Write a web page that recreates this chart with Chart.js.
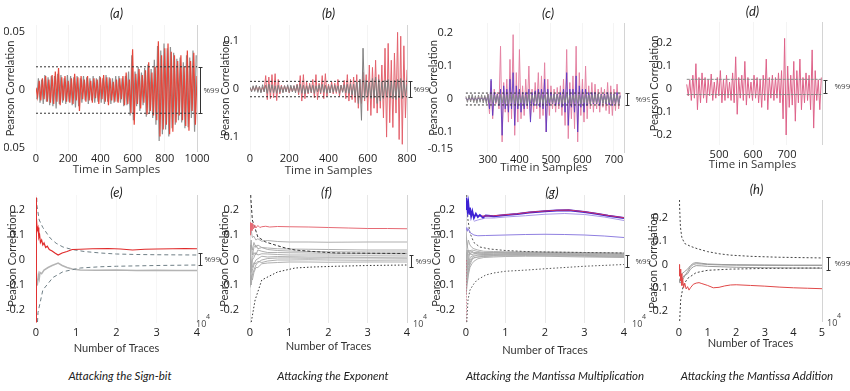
<!DOCTYPE html>
<html lang="en">
<head>
<meta charset="utf-8" />
<title>Pearson correlation panels</title>
<script src="https://cdn.jsdelivr.net/npm/chart.js@4.4.1/dist/chart.umd.min.js"></script>
<style>
  body { margin: 0; width: 850px; height: 391px; background: #fff; position: relative; overflow: hidden; }
  canvas { position: absolute; }
  .cap { position: absolute; top: 369px; font: italic 11.5px Lato, sans-serif; color: #222; transform: translateX(-50%); white-space: nowrap; }
</style>
</head>
<body>
<canvas id="pa"></canvas>
<canvas id="pb"></canvas>
<canvas id="pc"></canvas>
<canvas id="pd"></canvas>
<canvas id="pe"></canvas>
<canvas id="pf"></canvas>
<canvas id="pg"></canvas>
<canvas id="ph"></canvas>
<div class="cap" style="left:120px">Attacking the Sign-bit</div>
<div class="cap" style="left:333px">Attacking the Exponent</div>
<div class="cap" style="left:555px">Attacking the Mantissa Multiplication</div>
<div class="cap" style="left:757px">Attacking the Mantissa Addition</div>
<script>
// ---- (a) sign-bit, time domain: samples 0..1000 ----
const aXTicks = [0, 200, 400, 600, 800, 1000];
const aYTicks = [-0.05, 0, 0.05];
const aLimits = [0.02, -0.02];
const aRed = [
  0.002, -0.006, 0.008, -0.009, 0.010, -0.008, 0.012, -0.010, 0.009, -0.011, 0.013,
  -0.012, 0.016, -0.010, 0.019, -0.013, 0.011, -0.009, 0.012, -0.010, 0.008,
  -0.011, 0.010, -0.012, 0.014, -0.009, 0.011, -0.018, 0.012, -0.008, 0.009,
  -0.010, 0.012, -0.009, 0.008, -0.011, 0.010, -0.007, 0.009, -0.012, 0.011,
  -0.008, 0.013, -0.010, 0.011, -0.013, 0.010, -0.009, 0.007, -0.010, 0.009,
  -0.011, 0.010, -0.008, 0.012, -0.013, 0.015, -0.012, 0.009, -0.020, 0.035,
  -0.030, 0.014, -0.012, 0.018, -0.016, 0.013, -0.011, 0.017, -0.021, 0.024,
  -0.018, 0.015, -0.022, 0.020, -0.026, 0.042, -0.040, 0.030, -0.034, 0.036,
  -0.030, 0.040, -0.038, 0.033, -0.036, 0.030, -0.028, 0.025, -0.022, 0.030,
  -0.026, 0.020, -0.031, 0.034, -0.035, 0.025, -0.018, 0.032, -0.030, 0.012
];
const aGray = [
  -0.008, 0.010, -0.011, 0.009, -0.012, 0.013, -0.010, 0.011, -0.013, 0.012,
  -0.014, 0.012, -0.016, 0.014, -0.012, 0.013, -0.011, 0.010, -0.012, 0.013,
  -0.010, 0.012, -0.013, 0.011, -0.015, 0.012, -0.014, 0.010, -0.011, 0.012,
  -0.009, 0.011, -0.012, 0.010, -0.009, 0.012, -0.011, 0.010, -0.010, 0.012,
  -0.011, 0.010, -0.012, 0.013, -0.010, 0.011, -0.012, 0.010, -0.011, 0.012,
  -0.010, 0.012, -0.011, 0.010, -0.014, 0.012, -0.013, 0.016, -0.022, 0.030,
  -0.026, 0.016, -0.014, 0.020, -0.018, 0.015, -0.013, 0.019, -0.023, 0.022,
  -0.020, 0.018, -0.024, 0.026, -0.030, 0.038, -0.044, 0.034, -0.038, 0.040,
  -0.034, 0.036, -0.040, 0.037, -0.033, 0.032, -0.030, 0.027, -0.026, 0.028,
  -0.028, 0.024, -0.033, 0.030, -0.032, 0.028, -0.024, 0.034, -0.036, 0.030
];

// ---- (b) exponent, time domain: samples 0..800 ----
const bXTicks = [0, 200, 400, 600, 800];
const bYTicks = [-0.1, 0, 0.1];
const bLimits = [0.016, -0.016];
const bGray = [
  0.004, -0.006, 0.007, -0.005, 0.008, -0.007, 0.006, -0.008, 0.009, -0.006,
  0.008, -0.009, 0.010, -0.007, 0.009, -0.008, 0.007, -0.009, 0.008, -0.007,
  0.006, -0.008, 0.007, -0.006, 0.009, -0.007, 0.008, -0.006, 0.007, -0.008,
  0.009, -0.007, 0.010, -0.009, 0.008, -0.010, 0.007, -0.008, 0.009, -0.007,
  0.008, -0.009, 0.007, -0.006, 0.009, -0.008, 0.010, -0.007, 0.008, -0.009,
  0.007, -0.008, 0.009, -0.007, 0.008, -0.006, 0.007, -0.009, 0.008, -0.007,
  0.009, -0.008, 0.010, -0.009, 0.011, -0.012, 0.010, -0.014, 0.015, -0.030,
  0.020, -0.065, 0.085, -0.020, 0.018, -0.015, 0.014, -0.020, 0.022, -0.018,
  0.025, -0.030, 0.020, -0.025, 0.015, -0.020, 0.018, -0.015, 0.020, -0.018,
  0.016, -0.020, 0.018, -0.022, 0.020, -0.018, 0.022, -0.020, 0.018, -0.015,
  0.010
];
const bRed = [
  0.002, -0.004, 0.005, -0.003, 0.006, -0.004, 0.005, -0.006, 0.004, -0.005,
  0.028, -0.022, 0.025, -0.020, 0.030, -0.018, 0.032, -0.024, 0.020, -0.010,
  0.008, -0.006, 0.007, -0.005, 0.006, -0.008, 0.005, -0.006, 0.007, -0.005,
  0.010, -0.012, 0.028, -0.025, 0.030, -0.020, 0.015, -0.010, 0.012, -0.008,
  0.020, -0.018, 0.030, -0.022, 0.012, -0.010, 0.028, -0.020, 0.032, -0.015,
  0.010, -0.008, 0.015, -0.010, 0.012, -0.009, 0.020, -0.015, 0.008, -0.006,
  0.018, -0.020, 0.030, -0.025, 0.020, -0.022, 0.025, -0.028, 0.030, -0.040,
  0.020, -0.030, 0.035, -0.025, 0.030, -0.045, 0.050, -0.055, 0.045, -0.040,
  0.060, -0.050, 0.030, -0.040, 0.050, -0.060, 0.085, -0.100, 0.095, -0.070,
  0.060, -0.080, 0.075, -0.050, 0.118, -0.105, 0.110, -0.115, 0.090, -0.060,
  0.040
];

// ---- (c) mantissa multiplication, time domain: samples 230..720 ----
const cXTicks = [300, 400, 500, 600, 700];
const cYTicks = [-0.15, -0.1, 0, 0.1, 0.2];
const cLimits = [0.018, -0.018];
const cGray = [
  0.008, -0.010, 0.012, -0.009, 0.014, -0.011, 0.010, -0.013, 0.012, -0.010,
  0.013, -0.012, 0.011, -0.014, 0.015, -0.012, 0.014, -0.013, 0.012, -0.011,
  0.013, -0.015, 0.014, -0.012, 0.013, -0.014, 0.012, -0.015, 0.014, -0.012,
  0.015, -0.013, 0.012, -0.014, 0.013, -0.012, 0.014, -0.013, 0.012, -0.015,
  0.014, -0.013, 0.012, -0.011, 0.013, -0.014, 0.015, -0.012, 0.013, -0.014,
  0.012, -0.013, 0.014, -0.012, 0.011, -0.013, 0.014, -0.012, 0.013, -0.011,
  0.012, -0.014, 0.013, -0.012, 0.015, -0.013, 0.012, -0.014, 0.013, -0.012,
  0.014, -0.013, 0.012, -0.015, 0.013, -0.012, 0.014, -0.013, 0.012, -0.014,
  0.013, -0.012, 0.014, -0.013, 0.015, -0.012, 0.013, -0.014, 0.012, -0.013,
  0.014, -0.012, 0.013, -0.015, 0.014, -0.013, 0.012, -0.014, 0.010
];
const cPink = [
  0.004, -0.005, 0.006, -0.004, 0.005, -0.006, 0.004, -0.005, 0.006, -0.004,
  0.005, -0.006, 0.008, -0.010, 0.015, -0.045, 0.055, -0.060, 0.030, -0.015,
  0.020, -0.030, 0.160, -0.130, 0.050, -0.040, 0.060, -0.070, 0.120, -0.060,
  0.195, -0.110, 0.080, -0.070, 0.150, -0.060, 0.040, -0.050, 0.060, -0.030,
  0.100, -0.060, 0.030, -0.040, 0.050, -0.030, 0.080, -0.060, 0.070, -0.050,
  0.110, -0.100, 0.060, -0.050, 0.040, -0.030, 0.030, -0.040, 0.035, -0.030,
  0.040, -0.050, 0.060, -0.080, 0.150, -0.120, 0.050, -0.060, 0.070, -0.090,
  0.160, -0.130, 0.080, -0.050, 0.060, -0.070, 0.100, -0.060, 0.040, -0.030,
  0.050, -0.040, 0.045, -0.030, 0.030, -0.040, 0.035, -0.025, 0.030, -0.035,
  0.050, -0.045, 0.040, -0.050, 0.030, -0.035, 0.045, -0.030, 0.020
];
const cPurple = [
  0.002, -0.003, 0.003, -0.002, 0.004, -0.003, 0.002, -0.004, 0.003, -0.002,
  0.003, -0.004, 0.005, -0.006, 0.010, -0.030, 0.060, -0.050, 0.020, -0.010,
  0.015, -0.020, 0.030, -0.110, 0.040, -0.030, 0.030, -0.040, 0.060, -0.030,
  0.080, -0.080, 0.040, -0.030, 0.030, -0.040, 0.020, -0.030, 0.020, -0.020,
  0.030, -0.070, 0.020, -0.020, 0.025, -0.020, 0.030, -0.025, 0.030, -0.030,
  0.060, -0.100, 0.030, -0.020, 0.020, -0.015, 0.015, -0.020, 0.015, -0.015,
  0.020, -0.025, 0.030, -0.040, 0.080, -0.080, 0.030, -0.025, 0.030, -0.040,
  0.070, -0.100, 0.040, -0.025, 0.030, -0.040, 0.030, -0.020, 0.020, -0.015,
  0.020, -0.015, 0.020, -0.015, 0.015, -0.020, 0.015, -0.012, 0.015, -0.015,
  0.020, -0.018, 0.015, -0.020, 0.015, -0.015, 0.020, -0.015, 0.010
];

// ---- (d) mantissa addition, time domain: samples 405..801 ----
const dXTicks = [500, 600, 700];
const dYTicks = [-0.2, -0.1, 0, 0.1, 0.2];
const dLimits = [0.042, -0.024];
const dPink = [
  0.020, -0.030, 0.040, -0.050, 0.060, -0.040, 0.110, -0.090, 0.050, -0.060,
  0.070, -0.040, 0.050, -0.060, 0.040, -0.030, 0.065, -0.050, 0.030, -0.040,
  0.050, -0.030, 0.080, -0.060, 0.040, -0.050, 0.060, -0.040, 0.030, -0.050,
  0.070, -0.060, 0.140, -0.110, 0.050, -0.040, 0.060, -0.050, 0.120, -0.070,
  0.050, -0.040, 0.030, -0.050, 0.060, -0.040, 0.050, -0.060, 0.040, -0.080,
  0.060, -0.050, 0.130, -0.090, 0.050, -0.040, 0.060, -0.050, 0.050, -0.040,
  0.070, -0.060, 0.080, -0.130, 0.220, -0.200, 0.100, -0.080, 0.060, -0.070,
  0.120, -0.140, 0.080, -0.060, 0.130, -0.090, 0.050, -0.060, 0.070, -0.050,
  0.060, -0.090, 0.170, -0.170, 0.080, -0.050, 0.040, -0.090, 0.050
];

// ---- bottom row: correlation vs number of traces (x in units of 10^4) ----
const eXTicks = [0, 1, 2, 3, 4];
const hXTicks = [0, 1, 2, 3, 4, 5];
const lowYTicks = [-0.2, -0.1, 0, 0.1, 0.2];

const eRed = [[0, 0.25], [0.004, -0.25], [0.008, 0.2], [0.015, 0.17], [0.03, 0.12], [0.05, 0.13],
  [0.07, 0.09], [0.09, 0.1], [0.11, 0.07], [0.14, 0.08], [0.17, 0.06], [0.2, 0.068], [0.24, 0.05],
  [0.28, 0.055], [0.33, 0.042], [0.4, 0.036], [0.47, 0.028], [0.55, 0.02], [0.65, 0.028],
  [0.77, 0.034], [0.9, 0.042], [1.1, 0.043], [1.4, 0.045], [1.8, 0.046], [2.1, 0.044], [2.4, 0.04],
  [2.7, 0.043], [3.0, 0.044], [3.4, 0.045], [3.7, 0.046], [4.0, 0.045]];
const eGray = [[0.01, -0.1], [0.02, -0.08], [0.04, -0.09], [0.06, -0.06], [0.08, -0.075], [0.1, -0.05],
  [0.14, -0.055], [0.2, -0.04], [0.3, -0.03], [0.4, -0.022], [0.55, -0.012], [0.65, -0.022],
  [0.77, -0.03], [0.9, -0.036], [1.1, -0.04], [1.5, -0.041], [2, -0.04], [2.5, -0.042], [3, -0.041],
  [3.5, -0.042], [4, -0.042]];
const eUpper = [[0.005, 0.5], [0.02, 0.22], [0.08, 0.16], [0.17, 0.13], [0.35, 0.088], [0.5, 0.067],
  [0.67, 0.052], [0.9, 0.042], [1.2, 0.034], [1.6, 0.028], [2, 0.024], [2.5, 0.022], [3, 0.021], [4, 0.02]];
const eLower = [[0.005, -0.5], [0.02, -0.3], [0.05, -0.21], [0.17, -0.12], [0.42, -0.07], [0.67, -0.047],
  [1.1, -0.032], [1.6, -0.027], [2, -0.025], [3, -0.022], [4, -0.02]];

const fRed = [[0, 0.1], [0.01, 0.15], [0.02, 0.12], [0.03, 0.148], [0.05, 0.118], [0.07, 0.145],
  [0.09, 0.125], [0.12, 0.14], [0.15, 0.128], [0.2, 0.138], [0.25, 0.13], [0.3, 0.133], [0.4, 0.135],
  [0.5, 0.132], [0.7, 0.134], [1, 0.133], [1.5, 0.132], [2, 0.13], [2.5, 0.128], [3, 0.126],
  [3.5, 0.126], [4, 0.125]];
const fUpper = [[0.003, 0.5], [0.02, 0.25], [0.06, 0.16], [0.2, 0.092], [0.4, 0.072], [0.64, 0.06],
  [0.9, 0.048], [1.15, 0.04], [1.6, 0.034], [2.2, 0.028], [3, 0.027], [4, 0.026]];
const fLower = [[0.003, -0.5], [0.03, -0.25], [0.13, -0.16], [0.3, -0.08], [0.7, -0.048],
  [1.15, -0.032], [1.6, -0.028], [2.2, -0.025], [3, -0.022], [4, -0.02]];
const fGrayX = [0, 0.03, 0.06, 0.1, 0.15, 0.2, 0.3, 0.45, 0.7, 1, 1.5, 2, 3, 4];
const fGray = [
  [0.1, 0.12, 0.09, 0.095, 0.08, 0.085, 0.075, 0.078, 0.074, 0.072, 0.072, 0.071, 0.072, 0.072],
  [-0.05, 0.06, 0.04, 0.07, 0.05, 0.06, 0.05, 0.048, 0.045, 0.044, 0.043, 0.042, 0.04, 0.04],
  [0.04, 0.08, 0.02, 0.05, 0.06, 0.045, 0.05, 0.042, 0.038, 0.036, 0.034, 0.033, 0.032, 0.032],
  [-0.1, -0.03, 0.01, 0.03, 0.02, 0.04, 0.035, 0.03, 0.03, 0.029, 0.028, 0.027, 0.026, 0.026],
  [0.02, -0.05, 0.0, 0.01, 0.03, 0.02, 0.025, 0.024, 0.022, 0.02, 0.02, 0.02, 0.019, 0.02],
  [-0.11, -0.08, -0.04, -0.02, 0.0, 0.005, 0.015, 0.012, 0.014, 0.013, 0.012, 0.012, 0.011, 0.012],
  [-0.06, -0.1, -0.06, -0.04, -0.02, -0.01, 0.0, 0.006, 0.008, 0.008, 0.007, 0.008, 0.008, 0.007],
  [0.06, 0.0, -0.03, -0.01, -0.015, -0.005, -0.01, -0.004, 0.0, 0.0, 0.001, 0.0, -0.001, 0.0],
  [-0.02, -0.07, -0.08, -0.05, -0.03, -0.03, -0.015, -0.012, -0.01, -0.008, -0.008, -0.009, -0.008, -0.008]
];

const gTop = [[0, 0.25], [0.01, 0.2], [0.02, 0.245], [0.04, 0.2], [0.06, 0.225], [0.08, 0.185],
  [0.1, 0.21], [0.13, 0.175], [0.16, 0.195], [0.2, 0.168], [0.25, 0.185], [0.3, 0.172], [0.35, 0.18],
  [0.43, 0.17], [0.5, 0.178], [0.7, 0.175], [1.0, 0.18], [1.3, 0.184], [1.6, 0.19], [2.0, 0.195],
  [2.3, 0.198], [2.6, 0.199], [3.0, 0.192], [3.3, 0.185], [3.6, 0.177], [4.0, 0.168]];
const gTopRed = [[0.4, 0.176], [0.7, 0.177], [1.0, 0.181], [1.3, 0.185], [1.6, 0.191], [2.0, 0.196],
  [2.3, 0.199], [2.6, 0.2], [3.0, 0.193], [3.3, 0.186], [3.6, 0.178], [4.0, 0.169]];
const gLav1 = [[0.2, 0.155], [0.3, 0.16], [0.5, 0.168], [0.7, 0.168], [1.0, 0.172], [1.5, 0.177],
  [2.0, 0.183], [2.5, 0.186], [3.0, 0.182], [3.5, 0.172], [4.0, 0.158]];
const gLav2 = [[0, 0.12], [0.02, 0.13], [0.04, 0.115], [0.06, 0.125], [0.1, 0.11], [0.15, 0.105],
  [0.2, 0.1], [0.3, 0.097], [0.5, 0.098], [1.0, 0.1], [1.5, 0.102], [2.0, 0.103], [2.5, 0.102],
  [3.0, 0.1], [3.5, 0.096], [4.0, 0.09]];
const gRedStart = [[0, 0.0], [0, -0.26]];
const gUpper = [[0.003, 0.5], [0.02, 0.25], [0.05, 0.16], [0.1, 0.108], [0.2, 0.07], [0.35, 0.052],
  [0.6, 0.044], [1, 0.038], [1.5, 0.034], [2, 0.032], [3, 0.03], [4, 0.028]];
const gLower = [[0.003, -0.5], [0.02, -0.25], [0.05, -0.16], [0.1, -0.12], [0.2, -0.095], [0.28, -0.08],
  [0.5, -0.06], [0.7, -0.052], [1, -0.045], [1.55, -0.04], [2, -0.035], [3, -0.025], [4, -0.018]];
const gGrayX = [0, 0.03, 0.06, 0.1, 0.15, 0.2, 0.3, 0.45, 0.7, 1, 1.5, 2, 3, 4];
const gGray = [
  [0.12, 0.05, 0.08, 0.06, 0.05, 0.045, 0.04, 0.035, 0.034, 0.033, 0.032, 0.032, 0.03, 0.028],
  [-0.08, 0.02, 0.04, 0.02, 0.035, 0.03, 0.03, 0.028, 0.03, 0.03, 0.031, 0.03, 0.028, 0.026],
  [0.05, -0.04, 0.0, 0.03, 0.02, 0.025, 0.028, 0.026, 0.027, 0.028, 0.028, 0.027, 0.025, 0.022],
  [-0.12, -0.07, -0.03, 0.0, 0.01, 0.015, 0.02, 0.022, 0.024, 0.025, 0.026, 0.025, 0.022, 0.02],
  [0.09, 0.06, 0.03, 0.04, 0.03, 0.028, 0.025, 0.022, 0.022, 0.024, 0.024, 0.023, 0.021, 0.018],
  [-0.05, -0.09, -0.05, -0.02, 0.0, 0.01, 0.012, 0.015, 0.018, 0.02, 0.021, 0.02, 0.018, 0.015],
  [0.0, 0.04, -0.02, 0.01, 0.015, 0.02, 0.02, 0.018, 0.02, 0.021, 0.022, 0.021, 0.018, 0.014],
  [-0.1, -0.03, 0.02, 0.035, 0.04, 0.038, 0.034, 0.03, 0.03, 0.029, 0.03, 0.029, 0.027, 0.024],
  [0.03, -0.06, -0.04, -0.01, 0.005, 0.008, 0.012, 0.014, 0.016, 0.017, 0.018, 0.017, 0.015, 0.012],
  [-0.14, -0.1, -0.06, -0.03, -0.015, -0.005, 0.005, 0.01, 0.012, 0.014, 0.015, 0.015, 0.012, 0.01]
];

const hRed = [[0, 0.0], [0.02, -0.05], [0.04, -0.02], [0.06, -0.07], [0.08, -0.04], [0.1, -0.09],
  [0.13, -0.06], [0.16, -0.1], [0.2, -0.08], [0.25, -0.105], [0.3, -0.095], [0.35, -0.11], [0.4, -0.1],
  [0.5, -0.085], [0.6, -0.08], [0.7, -0.078], [0.8, -0.082], [1.0, -0.09], [1.2, -0.1], [1.4, -0.098],
  [1.6, -0.092], [1.8, -0.088], [2.0, -0.087], [2.5, -0.09], [3.0, -0.093], [3.5, -0.097], [4.0, -0.1],
  [4.5, -0.102], [5.0, -0.104]];
const hUpper = [[0.003, 0.5], [0.02, 0.25], [0.05, 0.16], [0.1, 0.115], [0.2, 0.09], [0.4, 0.078],
  [0.63, 0.068], [1, 0.055], [1.4, 0.046], [1.8, 0.04], [2.5, 0.035], [3.5, 0.031], [5, 0.028]];
const hLower = [[0.003, -0.5], [0.02, -0.25], [0.06, -0.15], [0.15, -0.09], [0.3, -0.06], [0.6, -0.035],
  [1, -0.025], [1.8, -0.02], [3, -0.017], [5, -0.015]];
const hGrayX = [0, 0.05, 0.1, 0.2, 0.3, 0.4, 0.5, 0.6, 0.8, 1, 1.5, 2, 3, 4, 5];
const hGray = [
  [-0.06, -0.08, -0.07, -0.05, -0.03, -0.01, 0.0, 0.003, 0.002, 0.0, -0.002, -0.003, -0.004, -0.004, -0.004],
  [-0.03, -0.05, -0.06, -0.045, -0.04, -0.02, -0.01, -0.005, -0.006, -0.008, -0.01, -0.012, -0.014, -0.015, -0.016],
  [-0.08, -0.06, -0.04, -0.03, -0.02, -0.005, 0.005, 0.008, 0.005, 0.002, 0.0, -0.001, -0.002, -0.003, -0.003]
];

// ---- helpers ----
Chart.defaults.font.family = "'Open Sans', sans-serif";
Chart.defaults.color = "#222";

const steps = (start, step, ys) => ys.map((y, i) => ({ x: start + i * step, y }));
const pts = (p) => p.map(([x, y]) => ({ x, y }));
const share = (xs, ys) => xs.map((x, i) => ({ x, y: ys[i] }));
const hline = (v, x0, x1) => [{ x: x0, y: v }, { x: x1, y: v }];

function line(data, color, width, dash) {
  return { data, borderColor: color, borderWidth: width, borderDash: dash || [], pointRadius: 0, fill: false, tension: 0 };
}

const deco = {
  id: "deco",
  afterDraw(chart, _args, o) {
    const { ctx, chartArea: a, scales: { y } } = chart;
    const r = Math.round(a.right) + 0.5;
    ctx.save();
    ctx.setLineDash([]);
    ctx.lineWidth = 1;
    ctx.strokeStyle = "#d4d4d4";
    ctx.beginPath();
    ctx.moveTo(r, a.top);
    ctx.lineTo(r, a.bottom);
    ctx.stroke();

    ctx.fillStyle = "#222";
    ctx.font = "italic 13px Lato, sans-serif";
    ctx.textAlign = "center";
    ctx.textBaseline = "middle";
    ctx.fillText(o.title, (a.left + a.right) / 2 + (o.tx || 0), a.top - o.ty);

    const y1 = Math.round(y.getPixelForValue(o.hi)) + 0.5;
    const y2 = Math.round(y.getPixelForValue(o.lo)) + 0.5;
    const bx = r + (o.bx || 3);
    ctx.strokeStyle = "#333";
    ctx.beginPath();
    ctx.moveTo(bx, y1); ctx.lineTo(bx, y2);
    ctx.moveTo(bx - 2, y1); ctx.lineTo(bx + 2, y1);
    ctx.moveTo(bx - 2, y2); ctx.lineTo(bx + 2, y2);
    ctx.stroke();
    ctx.fillStyle = "#444";
    ctx.font = "8px 'Open Sans', sans-serif";
    ctx.textAlign = "left";
    ctx.fillText("%99", bx + (o.px || 4), (y1 + y2) / 2);

    if (o.exp != null) {
      ctx.font = "9px 'Open Sans', sans-serif";
      ctx.fillText("10", a.right + o.exp, a.bottom + 1);
      ctx.font = "7px 'Open Sans', sans-serif";
      ctx.fillText("4", a.right + o.exp + 10, a.bottom - 6);
    }
    ctx.restore();
  },
};

function panel(id, box, area, o) {
  const cv = document.getElementById(id);
  cv.width = box.w;
  cv.height = box.h;
  cv.style.left = box.x + "px";
  cv.style.top = box.y + "px";
  const yW = area.l - box.x;
  const xH = box.y + box.h - area.b;
  const tickList = (vals) => (s) => { s.ticks = vals.map((v) => ({ value: v })); };
  new Chart(cv, {
    type: "line",
    data: { datasets: o.datasets },
    plugins: [deco],
    options: {
      responsive: false,
      animation: false,
      devicePixelRatio: 1,
      layout: { padding: { left: 0, bottom: 0, top: area.t - box.y, right: box.x + box.w - area.r } },
      plugins: { legend: { display: false }, tooltip: { enabled: false }, deco: o.deco },
      scales: {
        x: {
          type: "linear", min: o.x[0], max: o.x[1],
          afterBuildTicks: tickList(o.xTicks),
          afterFit: (s) => { s.height = xH; },
          grid: { color: o.grid, drawTicks: false },
          border: { display: false },
          ticks: { padding: o.xPad, autoSkip: false, maxRotation: 0, font: { size: 11 }, color: "#222", callback: (v) => String(v) },
          title: { display: true, text: o.xTitle, padding: 0, font: o.xFont, color: "#333" },
        },
        y: {
          type: "linear", min: o.y[0], max: o.y[1],
          afterBuildTicks: tickList(o.yTicks),
          afterFit: (s) => { s.width = yW; },
          grid: { display: false },
          border: { display: false },
          ticks: { padding: 3, autoSkip: false, font: { size: 11 }, color: "#222", callback: (v) => String(v) },
          title: { display: true, text: "Pearson Correlation", padding: 0, font: { size: 11, family: "Lato, sans-serif" }, color: "#333" },
        },
      },
    },
  });
}

const timeFont = { size: 11.5, family: "'Open Sans', sans-serif" };
const traceFont = { size: 11, family: "Lato, sans-serif" };

// ---- top row ----
panel("pa", { x: 4, y: 0, w: 218, h: 177 }, { l: 36, t: 25, r: 197, b: 152 }, {
  x: [0, 1000], y: [-0.0534, 0.056], xTicks: aXTicks, yTicks: aYTicks, xPad: 0, grid: "#f4f4f4",
  xTitle: "Time in Samples", xFont: timeFont,
  deco: { title: "(a)", ty: 11, hi: aLimits[0], lo: aLimits[1], bx: 3, px: 3 },
  datasets: [
    line(hline(aLimits[0], 0, 1000), "#333", 1, [2, 2]),
    line(hline(aLimits[1], 0, 1000), "#333", 1, [2, 2]),
    line(steps(0, 10, aRed), "#e5463b", 1.2),
    line(steps(5, 10, aGray), "#8f8f8f", 1.2),
  ],
});

panel("pb", { x: 219, y: 0, w: 213, h: 178 }, { l: 250, t: 25, r: 407, b: 152 }, {
  x: [0, 800], y: [-0.131, 0.1333], xTicks: bXTicks, yTicks: bYTicks, xPad: 0, grid: "#f4f4f4",
  xTitle: "Time in Samples", xFont: timeFont,
  deco: { title: "(b)", ty: 11, hi: bLimits[0], lo: bLimits[1], bx: 3, px: 3 },
  datasets: [
    line(hline(bLimits[0], 0, 800), "#333", 1, [2, 2]),
    line(hline(bLimits[1], 0, 800), "#333", 1, [2, 2]),
    line(steps(0, 8, bGray), "#7f7f7f", 1),
    line(steps(0, 8, bRed), "#e3626d", 1),
  ],
});

panel("pc", { x: 427, y: 0, w: 223, h: 175 }, { l: 464, t: 23, r: 624, b: 153 }, {
  x: [224, 732], y: [-0.1636, 0.2303], xTicks: cXTicks, yTicks: cYTicks, xPad: 0, grid: "#f4f4f4",
  xTitle: "Time in Samples", xFont: timeFont,
  deco: { title: "(c)", tx: 4, ty: 9, hi: cLimits[0], lo: cLimits[1], bx: 3, px: 8 },
  datasets: [
    line(hline(cLimits[0], 230, 720), "#333", 1, [2, 2]),
    line(hline(cLimits[1], 230, 720), "#333", 1, [2, 2]),
    line(steps(230, 5, cGray), "#858585", 1),
    line(steps(230, 5, cPurple), "#5533c4", 0.8),
    line(steps(230, 5, cPink), "#e483a3", 1),
  ],
});

panel("pd", { x: 648, y: 0, w: 202, h: 172 }, { l: 683, t: 22, r: 822, b: 145 }, {
  x: [394, 803], y: [-0.2435, 0.2913], xTicks: dXTicks, yTicks: dYTicks, xPad: 3, grid: "#f4f4f4",
  xTitle: "Time in Samples", xFont: timeFont,
  deco: { title: "(d)", ty: 10, hi: 0.039, lo: -0.017, bx: 3, px: 9 },
  datasets: [
    line(hline(dLimits[0], 405, 801), "#8a8a8a", 1, [3, 1]),
    line(hline(dLimits[1], 405, 801), "#8a8a8a", 1, [3, 1]),
    line(steps(405, 4.5, dPink), "#de6289", 1),
  ],
});

// ---- bottom row ----
panel("pe", { x: 6, y: 180, w: 216, h: 175 }, { l: 36, t: 195, r: 197, b: 323 }, {
  x: [0, 4], y: [-0.252, 0.26], xTicks: eXTicks, yTicks: lowYTicks, xPad: 3, grid: "#f6f6f6",
  xTitle: "Number of Traces", xFont: traceFont,
  deco: { title: "(e)", ty: 2, hi: 0.028, lo: -0.02, bx: 3, px: 4, exp: -1 },
  datasets: [
    line(pts(eRed), "#e02b2b", 1.2),
    line(pts(eUpper), "#6f7f86", 1, [4, 3]),
    line(pts(eLower), "#6f7f86", 1, [4, 3]),
    line(pts(eGray), "#b4b4b4", 1.5),
  ],
});

panel("pf", { x: 218, y: 180, w: 214, h: 173 }, { l: 250, t: 195, r: 407, b: 323 }, {
  x: [0, 4], y: [-0.252, 0.26], xTicks: eXTicks, yTicks: lowYTicks, xPad: 3, grid: "#e8e8e8",
  xTitle: "Number of Traces", xFont: traceFont,
  deco: { title: "(f)", tx: -2, ty: 2, hi: 0.02, lo: -0.028, bx: 4, px: 4, exp: 6 },
  datasets: [
    line(pts(fRed), "#e66a74", 1),
    line(pts(fUpper), "#333", 1, [3, 2]),
    line(pts(fLower), "#333", 1, [1.5, 2]),
    ...fGray.map((ys) => line(share(fGrayX, ys), "#a6a6a6", 0.9)),
  ],
});

panel("pg", { x: 430, y: 180, w: 220, h: 177 }, { l: 466, t: 195, r: 624, b: 323 }, {
  x: [0, 4], y: [-0.252, 0.26], xTicks: eXTicks, yTicks: lowYTicks, xPad: 3, grid: "#e8e8e8",
  xTitle: "Number of Traces", xFont: traceFont,
  deco: { title: "(g)", tx: 7, ty: 2, hi: 0.02, lo: -0.028, bx: 3, px: 8, exp: 8 },
  datasets: [
    line(pts(gTopRed), "#c8326a", 1.2),
    line(pts(gTop), "#3d22d4", 1.8),
    line(pts(gLav1), "#a89ae8", 1),
    line(pts(gLav2), "#8f7fe0", 1),
    line(pts(gUpper), "#555", 1, [2, 2]),
    line(pts(gLower), "#555", 1, [1.5, 2]),
    line(pts(gRedStart), "#d04a6a", 1, [1.5, 1.5]),
    ...gGray.map((ys) => line(share(gGrayX, ys), "#a9a9a9", 0.9)),
  ],
});

panel("ph", { x: 647, y: 180, w: 203, h: 170 }, { l: 679, t: 200, r: 822, b: 322 }, {
  x: [0, 5], y: [-0.2468, 0.2766], xTicks: hXTicks, yTicks: lowYTicks, xPad: 4, grid: "rgba(0,0,0,0)",
  xTitle: "Number of Traces", xFont: traceFont,
  deco: { title: "(h)", tx: 6, ty: 10, hi: 0.03, lo: -0.025, bx: 6, px: 6, exp: 5 },
  datasets: [
    line(pts(hRed), "#e04848", 1),
    line(pts(hUpper), "#444", 1, [2, 2]),
    line(pts(hLower), "#444", 1, [2, 2]),
    ...hGray.map((ys) => line(share(hGrayX, ys), "#9a9a9a", 1)),
  ],
});
</script>
</body>
</html>
